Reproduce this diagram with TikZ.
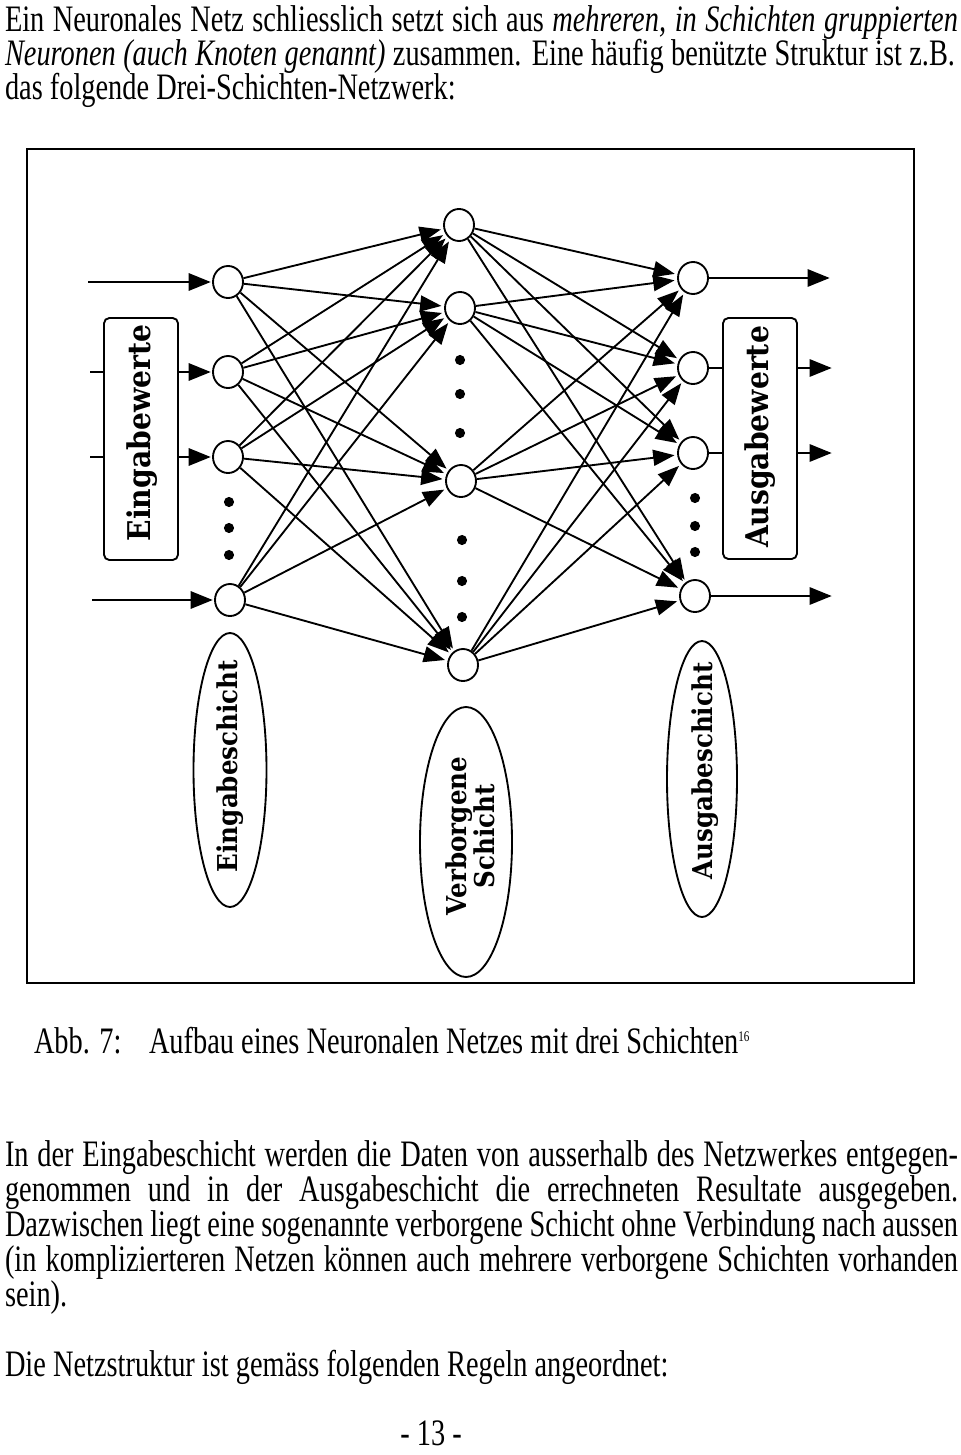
\documentclass[tikz,border=0pt]{standalone}
\usepackage{fontspec}
\setmainfont{Liberation Serif}[FakeStretch=0.76]
\newfontfamily\lblfont{DejaVu Serif}[FakeStretch=0.9]
\usetikzlibrary{arrows.meta,shapes.geometric}
\newlength\pxu
\setlength\pxu{0.75pt}
\newcommand\bodyfont{\fontsize{28pt}{25pt}\selectfont}
\newcommand\ovalfont{\lblfont\bfseries\fontsize{20.5pt}{19.5pt}\selectfont}
\newcommand\boxfont{\lblfont\bfseries\fontsize{23.5pt}{24pt}\selectfont}
\begin{document}
\begin{tikzpicture}[x=0.75pt,y=-0.75pt,
  line width=1.4pt,
  txt/.style={anchor=base west,inner sep=0pt,outer sep=0pt},
  neuron/.style={draw,ellipse,fill=white,minimum width=30\pxu,minimum height=32\pxu,inner sep=0pt},
  conn/.style={-{Triangle[length=16pt,width=12pt]},shorten >=2pt},
  ioarrow/.style={-{Triangle[length=16.5pt,width=13pt]},shorten >=1pt},
  labelbox/.style={draw,fill=white,rounded corners=4pt,inner sep=0pt},
  layeroval/.style={draw,ellipse,inner sep=0pt},
  rotlbl/.style={rotate=90,inner sep=0pt,align=center}
]
\useasboundingbox (0,0) rectangle (960,1455);

% ---------- text above ----------
\node[txt] (p1a) at (5,32) {\bodyfont\makebox[953\pxu][s]{Ein Neuronales Netz schliesslich setzt sich aus \textit{mehreren, in Schichten gruppierten}}};
\node[txt] (p1b) at (5,66) {\bodyfont\makebox[950\pxu][s]{\textit{Neuronen (auch Knoten genannt)} zusammen. Eine häufig benützte Struktur ist z.B.}};
\node[txt] (p1c) at (5,100) {\bodyfont das folgende Drei-Schichten-Netzwerk:};

% ---------- frame ----------
\draw (27,149) rectangle (914,983);

% ---------- neurons ----------
\node[neuron] (i1) at (228,282) {};
\node[neuron] (i2) at (228,372) {};
\node[neuron] (i3) at (228,457) {};
\node[neuron] (i4) at (230,600) {};

\node[neuron] (h1) at (459,225) {};
\node[neuron] (h2) at (460,308) {};
\node[neuron] (h3) at (461,481) {};
\node[neuron] (h4) at (463,665) {};

\node[neuron] (o1) at (693,278) {};
\node[neuron] (o2) at (693,368) {};
\node[neuron] (o3) at (693,453) {};
\node[neuron] (o4) at (695,596) {};

% ---------- dots ----------
\foreach \yy in {502,528,555} \fill (229,\yy) circle[radius=3.8pt];
\foreach \yy in {360,394,433} \fill (460,\yy) circle[radius=3.8pt];
\foreach \yy in {540,581,617} \fill (462,\yy) circle[radius=3.8pt];
\foreach \yy in {498,526,552} \fill (695,\yy) circle[radius=3.8pt];

% ---------- connections ----------
\foreach \s in {i1,i2,i3,i4}
  \foreach \t in {h1,h2,h3,h4}
    \draw[conn] (\s) -- (\t);
\foreach \s in {h1,h2,h3,h4}
  \foreach \t in {o1,o2,o3,o4}
    \draw[conn] (\s) -- (\t);

% ---------- input / output arrows ----------
\coordinate (a1) at (88,282);
\coordinate (a2) at (90,372);
\coordinate (a3) at (90,457);
\coordinate (a4) at (92,600);
\draw[ioarrow] (a1) -- (i1);
\draw[ioarrow] (a2) -- (i2);
\draw[ioarrow] (a3) -- (i3);
\draw[ioarrow] (a4) -- (i4);

\coordinate (b1) at (831,278);
\coordinate (b2) at (833,368);
\coordinate (b3) at (833,453);
\coordinate (b4) at (833,596);
\draw[ioarrow] (o1) -- (b1);
\draw[ioarrow] (o2) -- (b2);
\draw[ioarrow] (o3) -- (b3);
\draw[ioarrow] (o4) -- (b4);

% ---------- value boxes ----------
\node[labelbox,minimum width=74\pxu,minimum height=242\pxu] (inbox) at (141,439) {};
\node[rotlbl] (inboxt) at (142,433) {\boxfont Eingabewerte};
\node[labelbox,minimum width=74\pxu,minimum height=241\pxu] (outbox) at (760,438.5) {};
\node[rotlbl] (outboxt) at (760,437) {\boxfont Ausgabewerte};

% ---------- layer ovals ----------
\node[layeroval,minimum width=73\pxu,minimum height=274\pxu] (ov1) at (230,770) {};
\node[rotlbl] (ov1t) at (230,766) {\ovalfont Eingabeschicht};
\node[layeroval,minimum width=92\pxu,minimum height=270\pxu] (ov2) at (466,842) {};
\node[rotlbl] (ov2t) at (470,836) {\ovalfont Verborgene\\\ovalfont Schicht};
\node[layeroval,minimum width=70\pxu,minimum height=276\pxu] (ov3) at (702,779) {};
\node[rotlbl] (ov3t) at (705,771) {\ovalfont Ausgabeschicht};

% ---------- caption ----------
\node[txt] (cap1) at (34,1053) {\bodyfont Abb. 7:};
\node[txt] (cap2) at (149,1053) {\bodyfont Aufbau eines Neuronalen Netzes mit drei Schichten\raisebox{9pt}{\fontsize{11pt}{12pt}\selectfont 16}};

% ---------- text below ----------
\node[txt] (p2a) at (5,1166) {\bodyfont\makebox[953\pxu][s]{In der Eingabeschicht werden die Daten von ausserhalb des Netzwerkes entgegen-}};
\node[txt] (p2b) at (5,1201) {\bodyfont\makebox[953\pxu][s]{genommen und in der Ausgabeschicht die errechneten Resultate ausgegeben.}};
\node[txt] (p2c) at (5,1236) {\bodyfont\makebox[953\pxu][s]{Dazwischen liegt eine sogenannte verborgene Schicht ohne Verbindung nach aussen}};
\node[txt] (p2d) at (5,1271) {\bodyfont\makebox[953\pxu][s]{(in komplizierteren Netzen können auch mehrere verborgene Schichten vorhanden}};
\node[txt] (p2e) at (5,1306) {\bodyfont sein).};

\node[txt] (p3) at (5,1376) {\bodyfont Die Netzstruktur ist gemäss folgenden Regeln angeordnet:};

\node[anchor=base,inner sep=0pt] (pg) at (431,1445) {\bodyfont - 13 -};
\end{tikzpicture}
\end{document}
